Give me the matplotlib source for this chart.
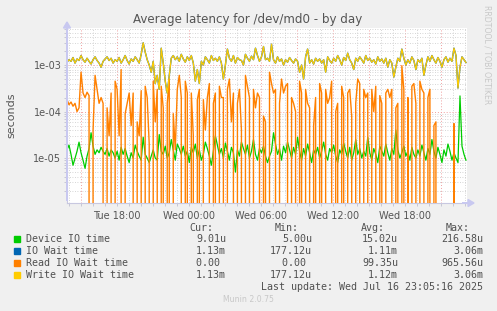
import numpy as np
import pandas as pd
import matplotlib
matplotlib.use("Agg")
import matplotlib.pyplot as plt
import matplotlib.dates as mdates
from matplotlib.ticker import LogLocator, FixedLocator, NullFormatter, FuncFormatter
from matplotlib.patches import Rectangle, FancyArrow

# ---------------- data (microseconds) ----------------
t_start = "2025-07-15 13:50"
t_end = "2025-07-16 23:05"

device_us = [
    15, 19, 12, 7, 10, 14, 22, 13, 9, 6, 11, 16, 35, 18, 12, 15, 13, 17, 14, 12, 16, 11, 15, 13, 10,
    14, 9, 17, 12, 16, 11, 8, 13, 10, 19, 14, 11, 9, 28, 12, 10, 8, 11, 15, 10, 9, 32, 14, 12, 18,
    10, 13, 25, 15, 9, 20, 16, 12, 18, 11, 14, 8, 17, 13, 20, 10, 15, 9, 12, 22, 16, 11, 7, 14, 30,
    19, 12, 16, 10, 21, 14, 9, 17, 13, 5, 15, 11, 22, 16, 12, 19, 10, 14, 25, 12, 9, 16, 13, 18, 11,
    8, 11, 14, 35, 20, 12, 16, 9, 18, 13, 22, 15, 10, 17, 12, 28, 14, 9, 16, 11, 20, 13, 8, 15, 12,
    17, 10, 14, 22, 12, 9, 16, 13, 19, 11, 8, 15, 12, 21, 14, 10, 17, 9, 13, 25, 12, 16, 10, 14, 11,
    28, 13, 9, 16, 12, 8, 18, 14, 11, 20, 13, 9, 16, 12, 40, 15, 10, 13, 18, 11, 14, 9, 17, 12, 10,
    15, 11, 19, 13, 9, 16, 12, 25, 14, 10, 17, 12, 8, 15, 11, 20, 14, 9, 13, 10, 8, 216.58, 18, 12, 9.01,
]

write_us = [
    1150, 1300, 1200, 1450, 1100, 1350, 1250, 1600, 1300, 1150, 1400, 1200, 1050, 1300, 1500, 1250, 1100, 900, 1200, 1350, 1500, 1250, 1400, 1100, 1300,
    1200, 1450, 1100, 1300, 1600, 1250, 1050, 1350, 1200, 1500, 1300, 1100, 1700, 3000, 1900, 1300, 1000, 700, 1200, 400, 600, 300, 2300, 1100, 450,
    250, 600, 1400, 1600, 1300, 1500, 1200, 1700, 1350, 1150, 1500, 1250, 1600, 1100, 450, 800, 400, 1200, 1000, 1500, 1300, 1100, 1600, 1250, 1400,
    1200, 1500, 1100, 500, 1000, 2200, 1400, 1200, 1600, 1100, 1450, 1300, 1250, 1000, 1700, 1400, 1200, 1550, 1300, 2300, 1600, 1200, 1500, 2500, 1300,
    1400, 1200, 2800, 1300, 1100, 1500, 1200, 1350, 1000, 1300, 1150, 1450, 1250, 1100, 1350, 1200, 700, 1000, 500, 1500, 2200, 1100, 1300, 1050, 1400,
    1200, 1350, 1100, 1300, 700, 1500, 1250, 1100, 1400, 1200, 1600, 1300, 1000, 1450, 1250, 1800, 1300, 1100, 800, 1400, 1200, 1500, 1300, 1100, 1600,
    1250, 1400, 1150, 1300, 1050, 1500, 1200, 1350, 1100, 1400, 900, 1300, 1100, 550, 900, 1400, 1200, 2200, 1400, 1000, 1300, 1100, 1500, 1250, 800,
    1300, 1150, 1400, 600, 1000, 1500, 1200, 1600, 1300, 1100, 1450, 1200, 900, 1300, 1500, 1150, 1400, 1200, 2300, 1600, 320, 900, 1500, 1300, 1130,
]

iowait_us = list(write_us)

read_us = [
    180, 140, 160, 130, 150, 100, 120, 700, 250, 200, 260, 220, 0, 40, 600, 300, 150, 200, 150, 0, 120, 30, 250, 0, 450,
    300, 30, 800, 0, 90, 150, 250, 50, 250, 0, 60, 30, 280, 0, 350, 200, 20, 0, 450, 60, 300, 0, 350, 120, 0,
    150, 500, 0, 90, 15, 300, 600, 200, 0, 450, 250, 0, 250, 30, 0, 180, 300, 0, 180, 40, 200, 400, 0, 150, 250,
    0, 350, 200, 200, 0, 300, 500, 60, 250, 0, 150, 300, 40, 0, 600, 350, 200, 0, 300, 120, 250, 200, 0, 80, 60,
    0, 700, 400, 250, 300, 0, 150, 500, 250, 350, 400, 0, 200, 150, 100, 0, 450, 250, 0, 300, 150, 120, 0, 50, 200,
    0, 400, 250, 0, 300, 150, 200, 450, 0, 100, 150, 0, 350, 200, 0, 250, 300, 80, 0, 150, 500, 400, 0, 300, 200,
    250, 0, 300, 100, 350, 0, 220, 150, 0, 250, 300, 200, 300, 0, 120, 150, 0, 965.56, 300, 0, 200, 0, 350, 400, 150,
    0, 450, 300, 250, 0, 200, 300, 0, 50, 60, 0, 0, 0, 0, 0, 0, 0, 0, 55, 0, 0, 0, 0, 0, 0,
]

series_labels = ["Device IO time", "IO Wait time", "Read IO Wait time", "Write IO Wait time"]
series_colors = ["#00CC00", "#0066B3", "#FF8000", "#FFCC00"]
cur_vals = ["9.01u", "1.13m", "0.00 ", "1.13m"]
min_vals = ["5.00u", "177.12u", "0.00 ", "177.12u"]
avg_vals = ["15.02u", "1.11m", "99.35u", "1.12m"]
max_vals = ["216.58u", "3.06m", "965.56u", "3.06m"]

# ---------------- figure ----------------
W, H = 497, 311
fig = plt.figure(figsize=(W / 100, H / 100), dpi=100, facecolor="#F0F0F0")

def fx(x):
    return x / W

def fy(y):
    return 1 - y / H

L, R, T, B = 67, 467, 28, 203
ax = fig.add_axes([fx(L), fy(B), fx(R) - fx(L), fy(T) - fy(B)])
ax.set_facecolor("white")

times = pd.date_range(t_start, t_end, periods=len(write_us))
to_s = lambda a: np.array(a, dtype=float) * 1e-6

ax.set_yscale("log", nonpositive="clip")
ax.plot(times, to_s(device_us), color=series_colors[0], lw=0.9, zorder=3)
ax.plot(times, to_s(iowait_us), color=series_colors[1], lw=1.0, zorder=3)
ax.plot(times, to_s(read_us), color=series_colors[2], lw=1.0, zorder=4)
ax.plot(times, to_s(write_us), color=series_colors[3], lw=0.9, zorder=5)

ax.set_ylim(1.08e-6, 6.25e-3)
ax.set_xlim(pd.Timestamp("2025-07-15 13:50"), pd.Timestamp("2025-07-16 23:10"))

# y ticks
ax.yaxis.set_major_locator(FixedLocator([1e-5, 1e-4, 1e-3]))
ax.yaxis.set_major_formatter(FuncFormatter(lambda v, p: "%.0e" % v))
ax.yaxis.set_minor_locator(LogLocator(base=10, subs=np.arange(2, 10)))
ax.yaxis.set_minor_formatter(NullFormatter())

# x ticks
ax.xaxis.set_major_locator(mdates.HourLocator(byhour=range(0, 24, 3)))
ax.xaxis.set_minor_locator(mdates.HourLocator())
def xfmt(v, p):
    d = mdates.num2date(v)
    return d.strftime("%a %H:%M") if d.hour % 6 == 0 else ""
ax.xaxis.set_major_formatter(FuncFormatter(xfmt))

ax.grid(which="major", color="#F0A0A0", linestyle=(0, (1, 2)), lw=0.7, zorder=1)
ax.grid(which="minor", color="#C8C8C8", linestyle=(0, (1, 2)), lw=0.6, zorder=1)

ax.tick_params(axis="both", which="both", labelsize=7, colors="#C0C0D0", labelcolor="#555555",
               length=2, width=0.6, direction="out", pad=2)
ax.tick_params(axis="x", pad=4)

for s in ["top", "right"]:
    ax.spines[s].set_visible(False)
for s in ["left", "bottom"]:
    ax.spines[s].set_color("#C8C8E0")
    ax.spines[s].set_linewidth(0.8)

# axis arrows
fig.patches.append(FancyArrow(fx(L), fy(B - 2), 0, fy(22) - fy(B - 2), width=0.0,
                              head_width=7 / W, head_length=6 / H, length_includes_head=True,
                              color="#C8C8F0", transform=fig.transFigure, figure=fig))
fig.patches.append(FancyArrow(fx(R - 5), fy(B), fx(474) - fx(R - 5), 0, width=0.0,
                              head_width=7 / H, head_length=6 / W, length_includes_head=True,
                              color="#C8C8F0", transform=fig.transFigure, figure=fig))

# title and labels
fig.text(fx(248), fy(19), "Average latency for /dev/md0 - by day", ha="center", va="center",
         fontsize=8.6, color="#555555")
fig.text(fx(11), fy(115), "seconds", rotation=90, ha="center", va="center", fontsize=8, color="#555555")
fig.text(fx(487), fy(5), "RRDTOOL / TOBI OETIKER", rotation=270, ha="center", va="top",
         fontsize=5.6, color="#C8C8C8")

# legend
mono = "DejaVu Sans Mono"
fs = 7.2
tc = "#505050"
fig.text(fx(213), fy(228), "Cur:", ha="right", va="center", family=mono, fontsize=fs, color=tc)
fig.text(fx(299), fy(228), "Min:", ha="right", va="center", family=mono, fontsize=fs, color=tc)
fig.text(fx(385), fy(228), "Avg:", ha="right", va="center", family=mono, fontsize=fs, color=tc)
fig.text(fx(470), fy(228), "Max:", ha="right", va="center", family=mono, fontsize=fs, color=tc)
for i, lab in enumerate(series_labels):
    y = 239 + 12 * i
    fig.patches.append(Rectangle((fx(14), fy(y + 3)), 6 / W, 6 / H, color=series_colors[i],
                                 transform=fig.transFigure, figure=fig))
    fig.text(fx(26), fy(y), lab, ha="left", va="center", family=mono, fontsize=fs, color=tc)
    fig.text(fx(226), fy(y), cur_vals[i], ha="right", va="center", family=mono, fontsize=fs, color=tc)
    fig.text(fx(312), fy(y), min_vals[i], ha="right", va="center", family=mono, fontsize=fs, color=tc)
    fig.text(fx(398), fy(y), avg_vals[i], ha="right", va="center", family=mono, fontsize=fs, color=tc)
    fig.text(fx(483), fy(y), max_vals[i], ha="right", va="center", family=mono, fontsize=fs, color=tc)
fig.text(fx(483), fy(287), "Last update: Wed Jul 16 23:05:16 2025", ha="right", va="center",
         family=mono, fontsize=fs, color=tc)
fig.text(fx(248), fy(300), "Munin 2.0.75", ha="center", va="center", fontsize=5.6, color="#C8C8C8")

fig.savefig("out.png", dpi=100, facecolor=fig.get_facecolor())
